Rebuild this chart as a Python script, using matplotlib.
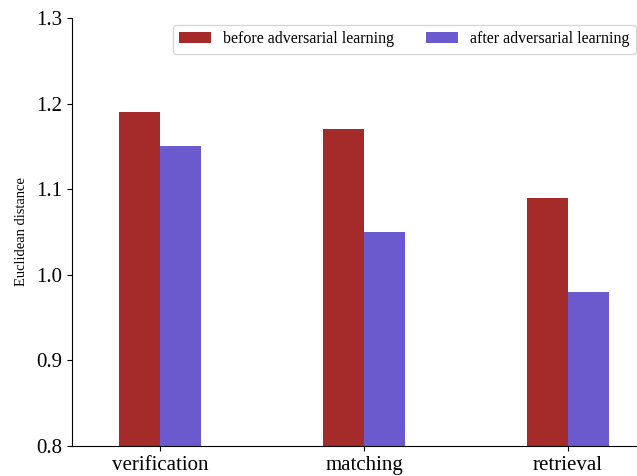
import matplotlib
matplotlib.use("Agg")
import matplotlib.pyplot as plt
import numpy as np

plt.rcParams['font.family'] = ['Liberation Serif', 'DejaVu Serif']

tasks = ["verification", "matching", "retrieval"]
before = [1.19, 1.17, 1.09]
after = [1.15, 1.05, 0.98]
yticks = [0.8, 0.9, 1.0, 1.1, 1.2, 1.3]

fig = plt.figure(figsize=(6.37, 4.76), dpi=100)
ax = fig.add_axes([72 / 637, 30 / 476, 1 - 72 / 637, (446 - 18) / 476])

x = np.arange(len(tasks))
w = 0.2
ax.bar(x - w / 2, before, w, color="#A52A2A", label="before adversarial learning")
ax.bar(x + w / 2, after, w, color="#6A5ACD", label="after adversarial learning")

ax.set_ylim(0.8, 1.3)
ax.set_yticks(yticks)
ax.set_yticklabels([f"{v:.1f}" for v in yticks])
ax.set_xlim(-88 / 204, 477 / 204)
ax.set_xticks(x)
ax.set_xticklabels(tasks)
ax.tick_params(axis="both", labelsize=15)
ax.set_ylabel("Euclidean distance", fontsize=10.5, labelpad=6)

ax.spines["top"].set_visible(False)
ax.spines["right"].set_visible(False)

ax.legend(ncol=2, fontsize=11.5, loc="upper right",
          bbox_to_anchor=(636 / 637, 1 - 25 / 476), bbox_transform=fig.transFigure,
          handlelength=2.0, handletextpad=0.75, columnspacing=2.0, borderaxespad=0)

fig.savefig("out.png", dpi=100)
